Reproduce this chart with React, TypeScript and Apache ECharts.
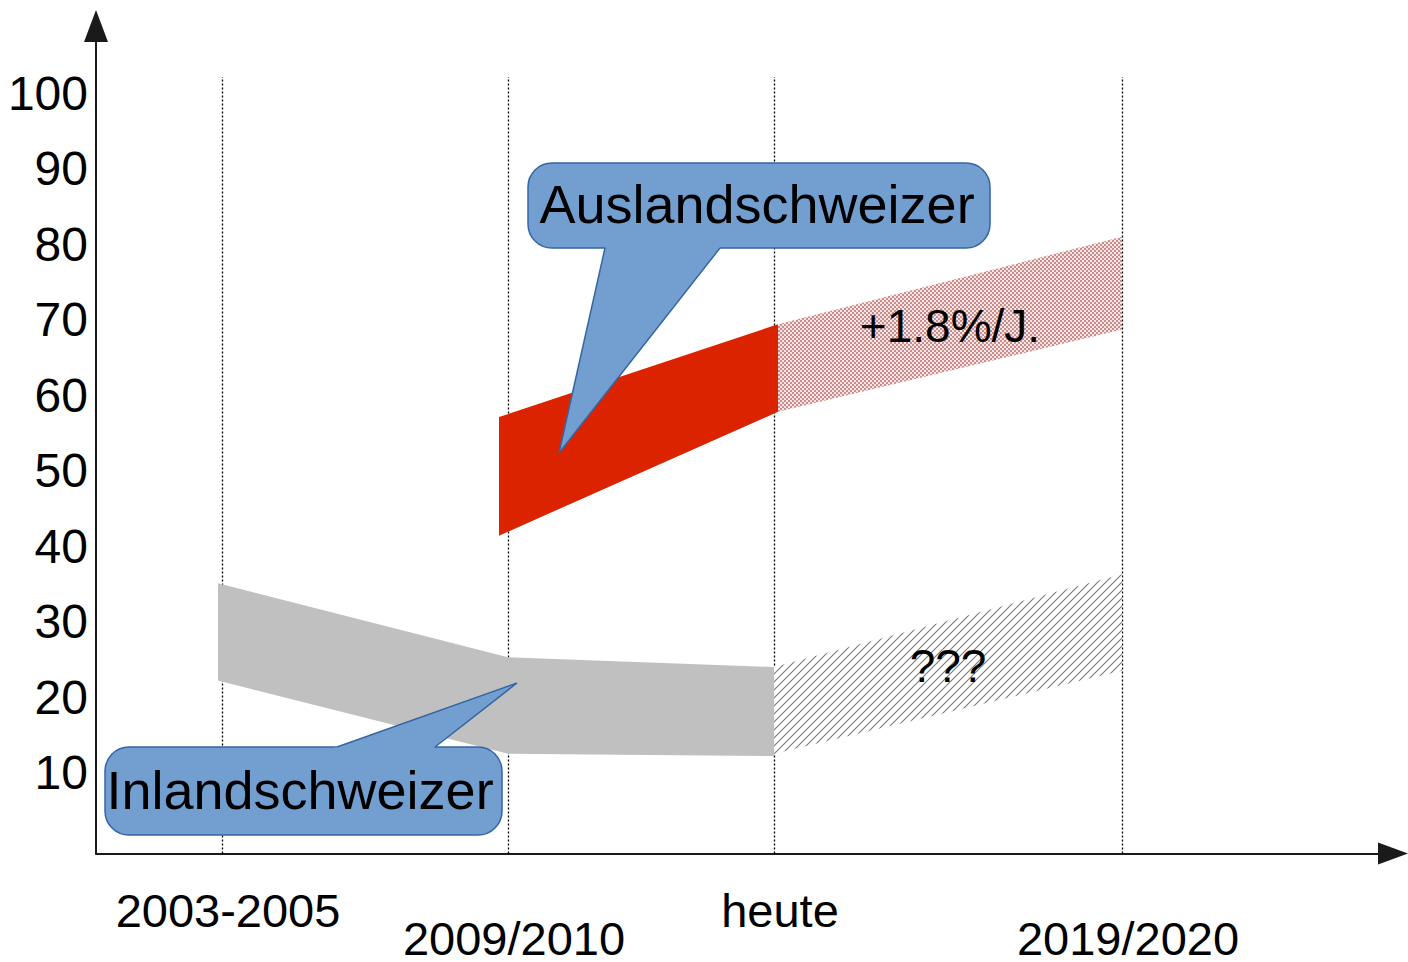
import React, { useEffect, useRef } from "react";
import * as echarts from "echarts";

// ---- data ----
const periodLabels = ["2003-2005", "2009/2010", "heute", "2019/2020"];
const periodX = [12.6, 41.2, 67.8, 102.6];
const yTickValues = [10, 20, 30, 40, 50, 60, 70, 80, 90, 100];

const auslandX = [40.3, 68.2];
const auslandUpper = [57.1, 69.4];
const auslandLower = [41.4, 57.8];

const auslandForecastX = [68.2, 102.6];
const auslandForecastUpper = [69.4, 81.0];
const auslandForecastLower = [57.8, 68.7];

const inlandX = [12.2, 41.2, 67.8];
const inlandUpper = [35.1, 25.3, 24.0];
const inlandLower = [22.2, 12.5, 12.2];

const inlandForecastX = [67.8, 102.6];
const inlandForecastUpper = [24.0, 36.3];
const inlandForecastLower = [12.5, 23.5];

const auslandForecastLabel = "+1.8%/J.";
const inlandForecastLabel = "???";
const auslandCalloutText = "Auslandschweizer";
const inlandCalloutText = "Inlandschweizer";

// ---- axis ranges ----
const X_MIN = 0;
const X_MAX = 129.7;
const Y_MIN = -0.7;
const Y_MAX = 108.9;
const DIVIDER_TOP = 102.1;

const FONT = '"Liberation Sans", Arial, sans-serif';

function makeCheckerPattern(): any {
  const c = document.createElement("canvas");
  c.width = 4;
  c.height = 4;
  const ctx = c.getContext("2d")!;
  ctx.fillStyle = "#f6e6e6";
  ctx.fillRect(0, 0, 4, 4);
  ctx.fillStyle = "#cc8c8c";
  ctx.fillRect(0, 0, 2, 2);
  ctx.fillRect(2, 2, 2, 2);
  return { image: c, repeat: "repeat", imageWidth: 4, imageHeight: 4 };
}

function makeHatchPattern(): any {
  const s = 8;
  const c = document.createElement("canvas");
  c.width = s;
  c.height = s;
  const ctx = c.getContext("2d")!;
  ctx.fillStyle = "#ffffff";
  ctx.fillRect(0, 0, s, s);
  ctx.strokeStyle = "#7a7a7a";
  ctx.lineWidth = 1.1;
  ctx.beginPath();
  ctx.moveTo(-1, s + 1);
  ctx.lineTo(s + 1, -1);
  ctx.moveTo(-2, 2);
  ctx.lineTo(2, -2);
  ctx.moveTo(s - 2, s + 2);
  ctx.lineTo(s + 2, s - 2);
  ctx.stroke();
  return { image: c, repeat: "repeat", imageWidth: s, imageHeight: s };
}

function bandSeries(
  name: string,
  xs: number[],
  upper: number[],
  lower: number[],
  fill: any,
  label?: string
) {
  return {
    type: "custom",
    name,
    z: 3,
    data: xs.map((x, i) => [x, lower[i], upper[i]]),
    encode: { x: 0, y: [1, 2] },
    renderItem: (params: any, api: any) => {
      if (params.dataIndex !== 0) return null;
      const pts: number[][] = [];
      for (let i = 0; i < xs.length; i++) pts.push(api.coord([xs[i], upper[i]]));
      for (let i = xs.length - 1; i >= 0; i--) pts.push(api.coord([xs[i], lower[i]]));
      const children: any[] = [
        { type: "polygon", shape: { points: pts }, style: { fill } },
      ];
      if (label) {
        const n = xs.length;
        const c = api.coord([
          (xs[0] + xs[n - 1]) / 2,
          (upper[0] + upper[n - 1] + lower[0] + lower[n - 1]) / 4,
        ]);
        children.push({
          type: "text",
          x: c[0],
          y: c[1],
          z2: 10,
          style: {
            text: label,
            fill: "#000",
            font: `46px ${FONT}`,
            align: "center",
            verticalAlign: "middle",
          },
        });
      }
      return { type: "group", children };
    },
  };
}

function callout(
  box: { x: number; y: number; w: number; h: number },
  tailFill: number[][],
  tailLine: number[][],
  text: string,
  textPos: number[]
) {
  return {
    type: "group",
    z: 20,
    children: [
      {
        type: "rect",
        z: 20,
        shape: { x: box.x, y: box.y, width: box.w, height: box.h, r: 24 },
        style: { fill: "#729fcf", stroke: "#3465a4", lineWidth: 1.5 },
      },
      {
        type: "polygon",
        z: 21,
        shape: { points: tailFill },
        style: { fill: "#729fcf" },
      },
      {
        type: "polyline",
        z: 22,
        shape: { points: tailLine },
        style: { stroke: "#3465a4", lineWidth: 1.5, fill: null },
      },
      {
        type: "text",
        z: 23,
        x: textPos[0],
        y: textPos[1],
        style: {
          text,
          fill: "#000",
          font: `54px ${FONT}`,
          align: "center",
          verticalAlign: "middle",
        },
      },
    ],
  };
}

export default function App() {
  const ref = useRef<HTMLDivElement>(null);

  useEffect(() => {
    if (!ref.current) return;
    const chart = echarts.init(ref.current, undefined, { renderer: "svg" });

    const option: any = {
      animation: false,
      backgroundColor: "#ffffff",
      textStyle: { fontFamily: FONT },
      grid: { left: 96, right: 15, top: 26, bottom: 107, containLabel: false },
      xAxis: {
        type: "value",
        min: X_MIN,
        max: X_MAX,
        axisLine: {
          show: true,
          onZero: false,
          symbol: ["none", "triangle"],
          symbolSize: [22, 30],
          lineStyle: { color: "#1a1a1a", width: 2 },
        },
        axisTick: { show: false },
        splitLine: { show: false },
        axisLabel: {
          customValues: periodX,
          margin: 43,
          fontSize: 47,
          lineHeight: 28,
          color: "#000",
          fontFamily: FONT,
          padding: [0, 0, 0, 12],
          formatter: (v: number) => {
            const i = periodX.findIndex((p) => Math.abs(p - v) < 1e-6);
            if (i < 0) return "";
            return i % 2 === 1 ? "\n" + periodLabels[i] : periodLabels[i];
          },
        },
      },
      yAxis: {
        type: "value",
        min: Y_MIN,
        max: Y_MAX,
        axisLine: {
          show: true,
          onZero: false,
          symbol: ["none", "triangle"],
          symbolSize: [24, 32],
          lineStyle: { color: "#1a1a1a", width: 2 },
        },
        axisTick: { show: false },
        splitLine: { show: false },
        axisLabel: {
          customValues: yTickValues,
          margin: 8,
          fontSize: 48,
          color: "#000",
          fontFamily: FONT,
        },
      },
      series: [
        {
          type: "custom",
          name: "dividers",
          z: 1,
          data: periodX.map((x) => [x]),
          encode: { x: 0 },
          renderItem: (_params: any, api: any) => {
            const x = api.value(0);
            const p0 = api.coord([x, Y_MIN]);
            const p1 = api.coord([x, DIVIDER_TOP]);
            const px = Math.round(p0[0]) + 0.5;
            return {
              type: "line",
              shape: { x1: px, y1: p0[1], x2: px, y2: Math.round(p1[1]) },
              style: { stroke: "#000", lineWidth: 1.3, lineDash: [2, 2] },
            };
          },
        },
        bandSeries("Inlandschweizer", inlandX, inlandUpper, inlandLower, "#c0c0c0"),
        bandSeries(
          "Inlandschweizer Prognose",
          inlandForecastX,
          inlandForecastUpper,
          inlandForecastLower,
          makeHatchPattern(),
          inlandForecastLabel
        ),
        bandSeries("Auslandschweizer", auslandX, auslandUpper, auslandLower, "#dc2300"),
        bandSeries(
          "Auslandschweizer Prognose",
          auslandForecastX,
          auslandForecastUpper,
          auslandForecastLower,
          makeCheckerPattern(),
          auslandForecastLabel
        ),
      ],
      graphic: [
        callout(
          { x: 528, y: 163, w: 462, h: 85 },
          [
            [607, 240],
            [559, 453],
            [726, 240],
          ],
          [
            [605, 248],
            [559, 453],
            [720, 248],
          ],
          auslandCalloutText,
          [757, 204]
        ),
        callout(
          { x: 105, y: 747, w: 397, h: 88 },
          [
            [314, 755],
            [517, 683],
            [425, 755],
          ],
          [
            [337, 747],
            [517, 683],
            [435, 747],
          ],
          inlandCalloutText,
          [300, 790]
        ),
      ],
    };

    chart.setOption(option);
    return () => chart.dispose();
  }, []);

  return (
    <div
      ref={ref}
      style={{ position: "absolute", left: 0, top: 0, width: 1408, height: 962 }}
    />
  );
}
